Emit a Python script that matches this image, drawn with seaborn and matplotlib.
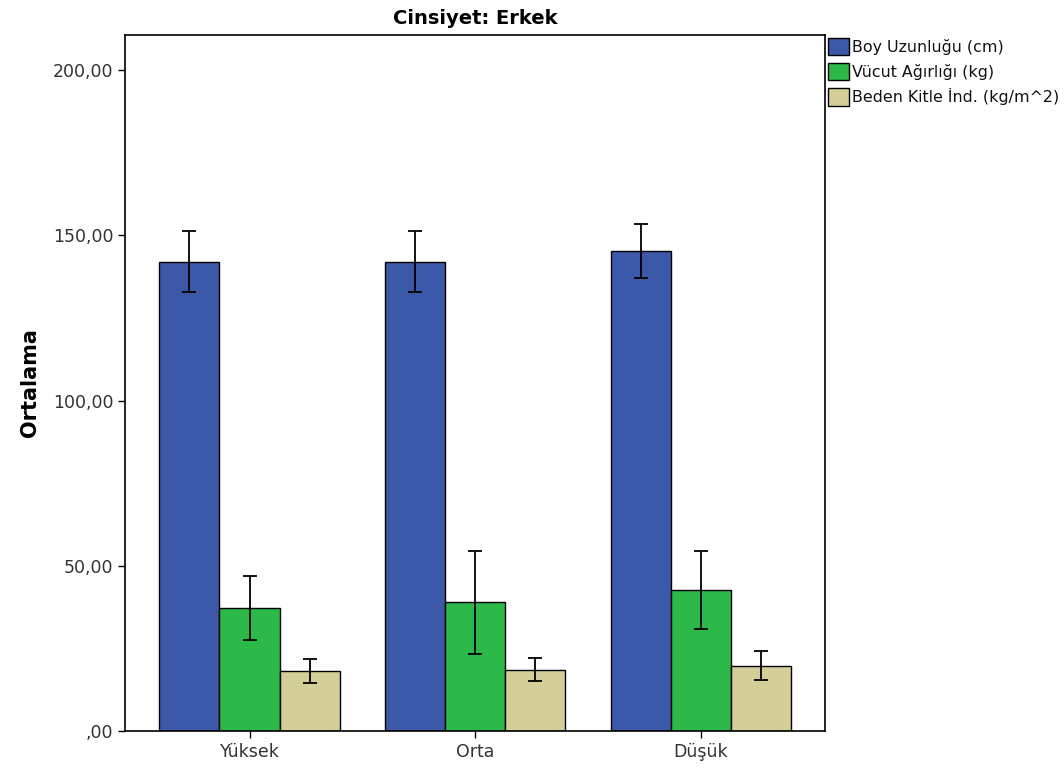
import matplotlib
matplotlib.use("Agg")
import matplotlib.pyplot as plt
import seaborn as sns
import pandas as pd
import numpy as np

categories = ["Yüksek", "Orta", "Düşük"]
series = ["Boy Uzunluğu (cm)", "Vücut Ağırlığı (kg)", "Beden Kitle İnd. (kg/m^2)"]
boy_mean = [141.9, 142.0, 145.2]
boy_low = [132.8, 132.8, 137.1]
boy_high = [151.3, 151.3, 153.4]
kilo_mean = [37.3, 39.0, 42.7]
kilo_low = [27.6, 23.2, 30.8]
kilo_high = [46.9, 54.4, 54.6]
bki_mean = [18.1, 18.6, 19.7]
bki_low = [14.5, 15.1, 15.3]
bki_high = [21.7, 22.0, 24.3]
yticks = [0, 50, 100, 150, 200]
ytick_labels = [",00", "50,00", "100,00", "150,00", "200,00"]
colors = ["#3C58A8", "#2DB84A", "#D4CE98"]

means = [boy_mean, kilo_mean, bki_mean]
lows = [boy_low, kilo_low, bki_low]
highs = [boy_high, kilo_high, bki_high]

rows = []
for s, m in zip(series, means):
    for c, v in zip(categories, m):
        rows.append({"Kategori": c, "Değişken": s, "Ortalama": v})
df = pd.DataFrame(rows)

sns.set_style("white")
plt.rcParams["font.family"] = ["DejaVu Sans"]
plt.rcParams["text.color"] = "black"

fig = plt.figure(figsize=(10.64, 7.71), dpi=100)
ax = fig.add_axes([125/1064, 40/771, 700/1064, 696/771])

sns.barplot(data=df, x="Kategori", y="Ortalama", hue="Değişken",
            order=categories, hue_order=series, palette=colors,
            errorbar=None, width=0.8, edgecolor="black", linewidth=1.0,
            saturation=1, ax=ax)

for container, m, lo, hi in zip(ax.containers, means, lows, highs):
    xs = [p.get_x() + p.get_width() / 2 for p in container.patches]
    m = np.array(m); lo = np.array(lo); hi = np.array(hi)
    ax.errorbar(xs, m, yerr=[m - lo, hi - m], fmt="none", ecolor="black",
                elinewidth=1.3, capsize=4.7, capthick=1.3, zorder=5)

ax.set_ylim(0, 210.6)
ax.set_xlim(-0.552, 2.55)
ax.set_yticks(yticks)
ax.set_yticklabels(ytick_labels)
ax.tick_params(axis="both", direction="out", length=5, width=1, colors="black",
               labelsize=12.5, labelcolor="#333333", left=True, bottom=True)
ax.set_xlabel("")
ax.set_ylabel("Ortalama", fontsize=15, fontweight="bold", labelpad=9, color="black")
ax.set_title("Cinsiyet: Erkek", fontsize=14, fontweight="bold", pad=8, color="black")
for sp in ax.spines.values():
    sp.set_visible(True)
    sp.set_color("black")
    sp.set_linewidth(1.2)

leg = ax.legend(loc="upper left", bbox_to_anchor=(1.002, 0.998), borderaxespad=0,
                frameon=False, fontsize=11.4, handlelength=1.3, handleheight=1.3,
                handletextpad=0.2, labelspacing=0.5, borderpad=0.1, title=None)
for t in leg.get_texts():
    t.set_color("#111111")

fig.savefig("out.png", dpi=100)
